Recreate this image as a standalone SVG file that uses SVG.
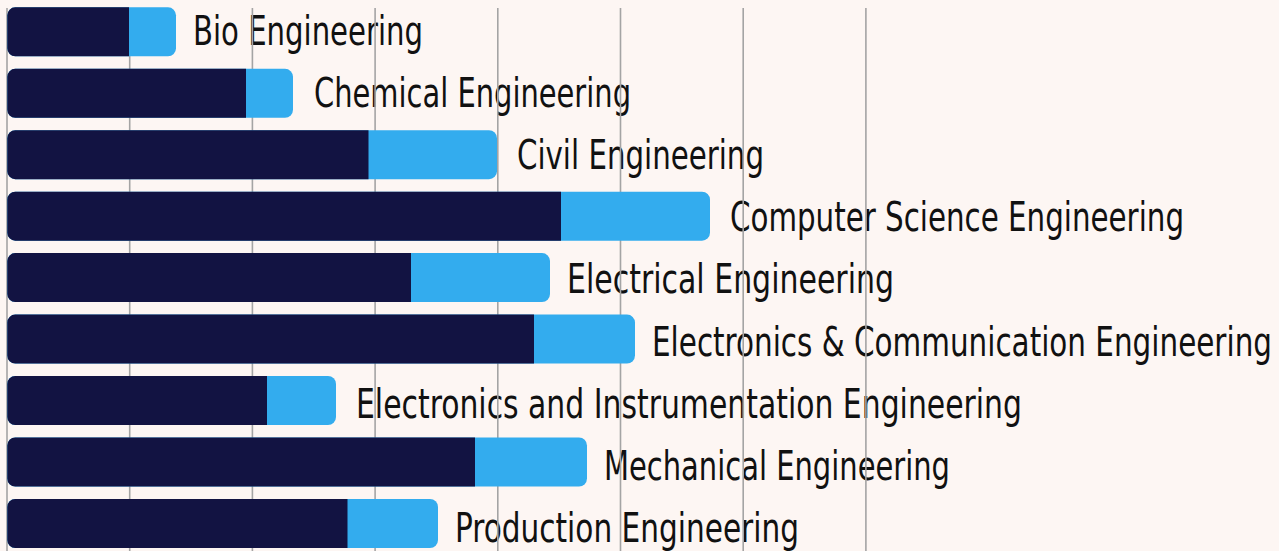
<svg xmlns="http://www.w3.org/2000/svg" width="1279" height="551" viewBox="0 0 1279 551">
<style>
.bg{fill:#fdf6f3}
.lbl{font-family:"DejaVu Sans Condensed","Liberation Sans Narrow","Liberation Sans",sans-serif;font-stretch:condensed;font-size:31px;fill:#111111}
.grid line{stroke:#a4a4a4;stroke-width:1.6}
.lo{fill:#33acee}
.hi{fill:#121342}
</style>
<rect class="bg" x="0" y="0" width="1279" height="551"/>
<g id="labels">
<text id="label-bio" class="lbl" transform="translate(193 45) scale(1 1.3)" textLength="230" lengthAdjust="spacingAndGlyphs">Bio Engineering</text>
<text id="label-chemical" class="lbl" transform="translate(314 107) scale(1 1.3)" textLength="317" lengthAdjust="spacingAndGlyphs">Chemical Engineering</text>
<text id="label-civil" class="lbl" transform="translate(517 169.2) scale(1 1.3)" textLength="247" lengthAdjust="spacingAndGlyphs">Civil Engineering</text>
<text id="label-cse" class="lbl" transform="translate(730 231.3) scale(1 1.3)" textLength="454" lengthAdjust="spacingAndGlyphs">Computer Science Engineering</text>
<text id="label-electrical" class="lbl" transform="translate(567 293.4) scale(1 1.3)" textLength="327" lengthAdjust="spacingAndGlyphs">Electrical Engineering</text>
<text id="label-ece" class="lbl" transform="translate(652 355.5) scale(1 1.3)" textLength="620" lengthAdjust="spacingAndGlyphs">Electronics &amp; Communication Engineering</text>
<text id="label-eie" class="lbl" transform="translate(356 417.6) scale(1 1.3)" textLength="666" lengthAdjust="spacingAndGlyphs">Electronics and Instrumentation Engineering</text>
<text id="label-mech" class="lbl" transform="translate(604 479.7) scale(1 1.3)" textLength="346" lengthAdjust="spacingAndGlyphs">Mechanical Engineering</text>
<text id="label-prod" class="lbl" transform="translate(455 541.8) scale(1 1.3)" textLength="344" lengthAdjust="spacingAndGlyphs">Production Engineering</text>
</g>
<g id="connectors" class="grid">
<line x1="7" y1="8" x2="7" y2="551"/>
<line x1="129.7" y1="8" x2="129.7" y2="551"/>
<line x1="252.4" y1="8" x2="252.4" y2="551"/>
<line x1="375.1" y1="8" x2="375.1" y2="551"/>
<line x1="497.8" y1="8" x2="497.8" y2="551"/>
<line x1="620.5" y1="8" x2="620.5" y2="551"/>
<line x1="743.2" y1="8" x2="743.2" y2="551"/>
<line x1="865.9" y1="8" x2="865.9" y2="551"/>
</g>
<g id="bar-bio">
<rect class="lo" x="7.3" y="7.3" width="168.7" height="49" rx="8"/>
<path class="hi" d="M15.3 7.3H129V56.3H15.3A8 8 0 0 1 7.3 48.3V15.3A8 8 0 0 1 15.3 7.3Z"/>
</g>
<g id="bar-chemical">
<rect class="lo" x="7.3" y="68.8" width="285.7" height="49" rx="8"/>
<path class="hi" d="M15.3 68.8H246V117.8H15.3A8 8 0 0 1 7.3 109.8V76.8A8 8 0 0 1 15.3 68.8Z"/>
</g>
<g id="bar-civil">
<rect class="lo" x="7.3" y="130.2" width="489.7" height="49" rx="8"/>
<path class="hi" d="M15.3 130.2H368.5V179.2H15.3A8 8 0 0 1 7.3 171.2V138.2A8 8 0 0 1 15.3 130.2Z"/>
</g>
<g id="bar-cse">
<rect class="lo" x="7.3" y="191.7" width="702.7" height="49" rx="8"/>
<path class="hi" d="M15.3 191.7H561V240.7H15.3A8 8 0 0 1 7.3 232.7V199.7A8 8 0 0 1 15.3 191.7Z"/>
</g>
<g id="bar-electrical">
<rect class="lo" x="7.3" y="253.1" width="542.7" height="49" rx="8"/>
<path class="hi" d="M15.3 253.1H411V302.1H15.3A8 8 0 0 1 7.3 294.1V261.1A8 8 0 0 1 15.3 253.1Z"/>
</g>
<g id="bar-ece">
<rect class="lo" x="7.3" y="314.6" width="627.7" height="49" rx="8"/>
<path class="hi" d="M15.3 314.6H534V363.6H15.3A8 8 0 0 1 7.3 355.6V322.6A8 8 0 0 1 15.3 314.6Z"/>
</g>
<g id="bar-eie">
<rect class="lo" x="7.3" y="376" width="328.7" height="49" rx="8"/>
<path class="hi" d="M15.3 376H267V425H15.3A8 8 0 0 1 7.3 417V384A8 8 0 0 1 15.3 376Z"/>
</g>
<g id="bar-mech">
<rect class="lo" x="7.3" y="437.5" width="579.7" height="49" rx="8"/>
<path class="hi" d="M15.3 437.5H475V486.5H15.3A8 8 0 0 1 7.3 478.5V445.5A8 8 0 0 1 15.3 437.5Z"/>
</g>
<g id="bar-prod">
<rect class="lo" x="7.3" y="499" width="430.7" height="49" rx="8"/>
<path class="hi" d="M15.3 499H347.5V548H15.3A8 8 0 0 1 7.3 540V507A8 8 0 0 1 15.3 499Z"/>
</g>
</svg>
